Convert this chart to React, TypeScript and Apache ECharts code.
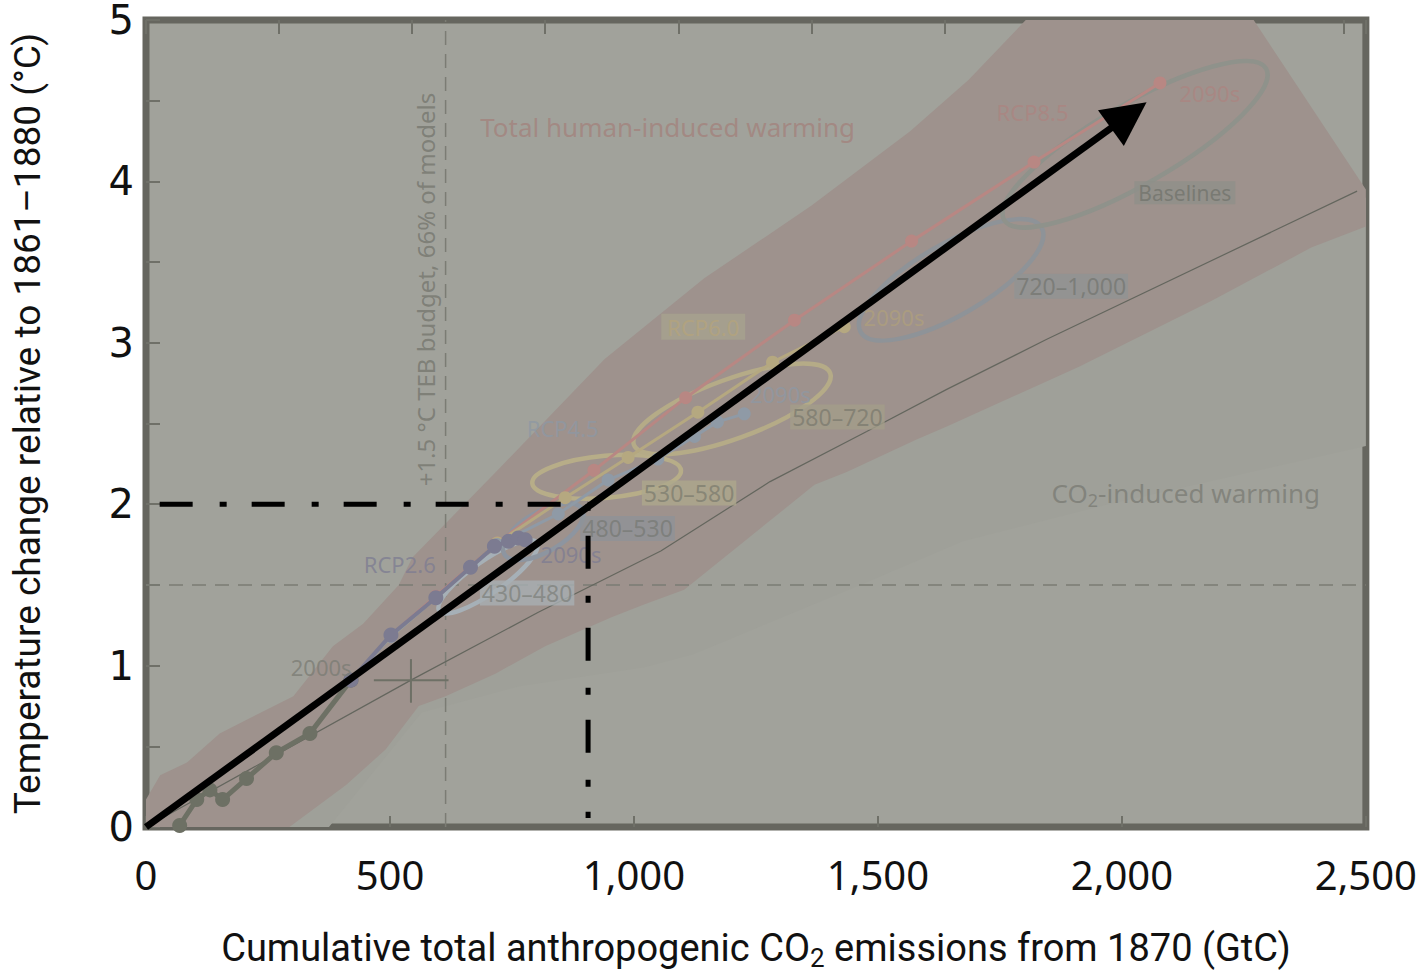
import React, { useEffect, useRef } from 'react';
import * as echarts from 'echarts';

// ---------- data (GtC, °C) ----------
const xTickValues = [0, 500, 1000, 1500, 2000, 2500];
const yTickValues = [0, 1, 2, 3, 4, 5];

const historical = [[69, 0.01], [104, 0.17], [131, 0.23], [157, 0.17], [206, 0.3], [267, 0.46], [336, 0.58], [420, 0.91]];
const rcp26 = [[420, 0.91], [502, 1.19], [594, 1.42], [665, 1.61], [714, 1.74], [743, 1.77], [763, 1.79], [777, 1.78]];
const rcp45 = [[420, 0.91], [502, 1.18], [594, 1.42], [720, 1.75], [845, 1.94], [947, 2.15], [1049, 2.28], [1124, 2.42], [1171, 2.51], [1226, 2.56]];
const rcp60 = [[420, 0.91], [502, 1.18], [594, 1.42], [720, 1.76], [859, 2.04], [988, 2.29], [1131, 2.57], [1284, 2.88], [1431, 3.1]];
const rcp85 = [[420, 0.91], [502, 1.19], [594, 1.43], [720, 1.76], [918, 2.21], [1106, 2.66], [1329, 3.14], [1569, 3.63], [1820, 4.12], [2078, 4.61]];
const co2Central = [[0, 0], [543, 0.91], [804, 1.33], [1055, 1.71], [1279, 2.14], [1477, 2.45], [1640, 2.71], [1845, 3.02], [2482, 3.94]];

const redUpper = [[0, 0.17], [29, 0.32], [84, 0.4], [151, 0.58], [302, 0.81], [383, 1.12], [445, 1.26], [518, 1.5], [546, 1.67], [730, 2.24], [940, 2.9], [1144, 3.4], [1364, 3.85], [1566, 4.31], [1686, 4.63], [1803, 5.0], [2270, 5.0], [2500, 3.95]];
const redLower = [[0, 0], [294, 0], [410, 0.26], [491, 0.48], [559, 0.75], [614, 0.81], [716, 0.95], [818, 1.12], [954, 1.3], [1022, 1.38], [1103, 1.47], [1370, 2.12], [1436, 2.2], [1578, 2.4], [1640, 2.48], [1911, 2.85], [2184, 3.26], [2388, 3.59], [2500, 3.72]];
const grayUpper = [[0, 0], [300, 0.62], [546, 1.2], [1022, 2.0], [1640, 2.8], [2184, 3.45], [2500, 3.9]];
const grayLower = [[375, 0], [565, 0.71], [763, 0.87], [1022, 0.99], [1122, 1.07], [1464, 1.5], [1674, 1.77], [1960, 1.99], [2500, 2.36]];

// concentration ranges: [centre x, centre y, semi-axis a, semi-axis b (GtC-scaled), tilt deg]
const rangeEllipses = [
  [701, 1.55, 122, 33, 35],
  [814, 1.83, 92, 41, 30],
  [944, 2.17, 153, 43, 5],
  [1201, 2.59, 214, 61, 20],
  [1650, 3.39, 214, 73, 30],
  [2027, 4.23, 310, 82, 30],
];

// observed 2000s error cross: [x, y, xLow, xHigh, yLow, yHigh]
const observedCross = [[543, 0.91, 467, 620, 0.77, 1.04]];

const budget15 = 614;
const level15 = 1.5;
const level2 = 2;
const budget2 = 906;
const arrowFrom = [0, 0];
const arrowTo = [2014, 4.41];

const annotations = [
  { text: 'Total human-induced warming', at: [1069, 4.34], kind: 'total' },
  { text: 'CO2-induced warming', at: [2131, 2.07], kind: 'co2' },
  { text: 'RCP8.5', at: [1817, 4.43], kind: 'r85' },
  { text: '2090s', at: [2180, 4.55], kind: 'r85' },
  { text: 'RCP6.0', at: [1142, 3.1], kind: 'r60box' },
  { text: '2090s', at: [1533, 3.16], kind: 'r60' },
  { text: 'RCP4.5', at: [854, 2.47], kind: 'r45' },
  { text: '2090s', at: [1300, 2.68], kind: 'r45' },
  { text: 'RCP2.6', at: [520, 1.63], kind: 'r26' },
  { text: '2090s', at: [871, 1.69], kind: 'r26' },
  { text: '2000s', at: [359, 0.99], kind: 'hist' },
  { text: '430–480', at: [781, 1.45], kind: 'box430' },
  { text: '480–530', at: [987, 1.85], kind: 'box480' },
  { text: '530–580', at: [1113, 2.07], kind: 'box530' },
  { text: '580–720', at: [1417, 2.54], kind: 'box580' },
  { text: '720–1,000', at: [1896, 3.35], kind: 'box720' },
  { text: 'Baselines', at: [2129, 3.93], kind: 'boxBase' },
  { text: '+1.5 °C TEB budget, 66% of models', at: [573, 3.33], kind: 'teb' },
];

// ---------- styles ----------
const FONT = 'Noto Sans';
const TITLE_FONT = 'Roboto';
const ellipseColors = ['#a6b0b7', '#8d95a0', '#b7ad88', '#b5ab87', '#8e9398', '#8f928b'];

const labelStyles: Record<string, any> = {
  total: { fontSize: 26, color: '#a3837d' },
  co2: { fontSize: 26, color: '#7b7c75' },
  r85: { fontSize: 22, color: '#ab8581' },
  r60: { fontSize: 22, color: '#ae9f7d' },
  r60box: { fontSize: 22, color: '#b4a47d', backgroundColor: '#a6a28e', padding: [3, 6, 1, 6] },
  r45: { fontSize: 22, color: '#8e98a3' },
  r26: { fontSize: 22, color: '#7e7d92' },
  hist: { fontSize: 22, color: '#7c7d75' },
  box430: { fontSize: 23, color: '#80837f', backgroundColor: '#a8afb3', padding: [2, 2, 0, 2] },
  box480: { fontSize: 23, color: '#797b77', backgroundColor: '#8f9297', padding: [2, 2, 0, 2] },
  box530: { fontSize: 23, color: '#7f7e70', backgroundColor: '#aca78c', padding: [2, 2, 0, 2] },
  box580: { fontSize: 23, color: '#7d7c70', backgroundColor: '#a29e8a', padding: [2, 2, 0, 2] },
  box720: { fontSize: 23, color: '#767873', backgroundColor: '#909394', padding: [2, 2, 0, 2] },
  boxBase: { fontSize: 21, color: '#73746d', backgroundColor: '#8f908a', padding: [2, 4, 0, 4] },
  teb: { fontSize: 24, color: '#76776f', rotate: 90 },
};

function polygonSeries(points: number[][], color: string, z: number) {
  return {
    type: 'custom',
    coordinateSystem: 'cartesian2d',
    silent: true,
    z,
    clip: true,
    data: [points[0]],
    renderItem: (_p: any, api: any) => ({
      type: 'polygon',
      shape: { points: points.map((p) => api.coord(p)) },
      style: { fill: color },
    }),
  };
}

function pathSeries(data: number[][], color: string, width: number, symbolSize: number, z: number) {
  return {
    type: 'line',
    data,
    z,
    silent: true,
    symbol: 'circle',
    symbolSize,
    showSymbol: true,
    itemStyle: { color, borderWidth: 0 },
    lineStyle: { color, width },
  };
}

export default function App() {
  const ref = useRef<HTMLDivElement>(null);

  useEffect(() => {
    if (!ref.current) return;
    const chart = echarts.init(ref.current, undefined, { renderer: 'svg' });

    const redPoly = redUpper.concat(redLower.slice().reverse());
    const grayPoly = grayUpper.concat(grayLower.slice().reverse());

    const option: any = {
      animation: false,
      textStyle: { fontFamily: FONT },
      grid: {
        left: 146,
        top: 17,
        width: 1226,
        height: 817,
        show: true,
        backgroundColor: '#a1a29b',
        borderColor: '#66665f',
        borderWidth: 7,
        containLabel: false,
      },
      xAxis: [
        {
          type: 'value',
          min: xTickValues[0],
          max: xTickValues[xTickValues.length - 1],
          interval: 500,
          position: 'bottom',
          axisLine: { show: false },
          axisTick: { show: true, inside: true, length: 11, lineStyle: { color: '#6f7068', width: 2 } },
          splitLine: { show: false },
          axisLabel: {
            formatter: (v: number) => v.toLocaleString('en-US'),
            fontSize: 40,
            fontFamily: FONT,
            color: '#111',
            margin: 27,
          },
          name: '{a|Cumulative total anthropogenic CO}{s|2}{a| emissions from 1870 (GtC)}',
          nameLocation: 'middle',
          nameGap: 98,
          nameTextStyle: {
            rich: {
              a: { fontSize: 38, fontFamily: TITLE_FONT, color: '#111' },
              s: { fontSize: 26, fontFamily: TITLE_FONT, color: '#111', padding: [20, 0, 0, 0] },
            },
          },
        },
        {
          type: 'value',
          min: 0,
          max: (2500 * 44) / 12,
          interval: 1000,
          position: 'top',
          axisLine: { show: false },
          axisTick: { show: true, inside: true, length: 14, lineStyle: { color: '#6f7068', width: 2 } },
          axisLabel: { show: false },
          splitLine: { show: false },
        },
      ],
      yAxis: {
        type: 'value',
        min: yTickValues[0],
        max: yTickValues[yTickValues.length - 1],
        interval: 0.5,
        axisLine: { show: false },
        axisTick: { show: true, inside: true, length: 14, lineStyle: { color: '#6f7068', width: 2 } },
        splitLine: { show: false },
        axisLabel: {
          formatter: (v: number) => (yTickValues.includes(v) ? String(v) : ''),
          fontSize: 40,
          fontFamily: 'DejaVu Sans',
          color: '#111',
          margin: 12,
        },
        name: 'Temperature change relative to 1861–1880 (°C)',
        nameLocation: 'middle',
        nameGap: 100,
        nameRotate: 90,
        nameTextStyle: { fontSize: 37, fontFamily: TITLE_FONT, color: '#111' },
      },
      series: [
        polygonSeries(grayPoly, '#9fa099', 1),
        polygonSeries(redPoly, '#9e928d', 2),
        {
          type: 'line',
          silent: true,
          z: 3,
          symbol: 'none',
          data: [[budget15, 0], [budget15, 5]],
          lineStyle: { color: '#7b7c74', width: 1.5, type: [14, 9] },
        },
        {
          type: 'line',
          silent: true,
          z: 3,
          symbol: 'none',
          data: [[0, level15], [2500, level15]],
          lineStyle: { color: '#7b7c74', width: 1.5, type: [14, 9] },
        },
        {
          type: 'line',
          silent: true,
          z: 4,
          symbol: 'none',
          data: co2Central,
          lineStyle: { color: '#64665e', width: 1.2 },
        },
        {
          type: 'custom',
          coordinateSystem: 'cartesian2d',
          silent: true,
          z: 5,
          data: rangeEllipses,
          renderItem: (params: any, api: any) => {
            const c = api.coord([api.value(0), api.value(1)]);
            const rx = api.size([api.value(2), 0])[0];
            const ry = api.size([api.value(3), 0])[0];
            return {
              type: 'ellipse',
              x: c[0],
              y: c[1],
              rotation: (api.value(4) * Math.PI) / 180,
              shape: { cx: 0, cy: 0, rx, ry },
              style: { fill: 'none', stroke: ellipseColors[params.dataIndex], lineWidth: 4.5 },
            };
          },
        },
        {
          type: 'custom',
          coordinateSystem: 'cartesian2d',
          silent: true,
          z: 6,
          data: observedCross,
          renderItem: (_p: any, api: any) => {
            const a = api.coord([api.value(2), api.value(1)]);
            const b = api.coord([api.value(3), api.value(1)]);
            const c = api.coord([api.value(0), api.value(4)]);
            const d = api.coord([api.value(0), api.value(5)]);
            const st = { stroke: '#6e7066', lineWidth: 2 };
            return {
              type: 'group',
              children: [
                { type: 'line', shape: { x1: a[0], y1: a[1], x2: b[0], y2: b[1] }, style: st },
                { type: 'line', shape: { x1: c[0], y1: c[1], x2: d[0], y2: d[1] }, style: st },
              ],
            };
          },
        },
        pathSeries(rcp85, '#b88783', 3, 13, 7),
        pathSeries(rcp60, '#b5a880', 3, 13, 8),
        pathSeries(rcp45, '#8f9aa6', 3, 13, 9),
        pathSeries(historical, '#6d7064', 5, 15, 10),
        pathSeries(rcp26, '#7c7b91', 4, 15, 11),
        {
          type: 'scatter',
          silent: true,
          z: 12,
          symbolSize: 0,
          data: annotations.map((a) => {
            const st = labelStyles[a.kind];
            const isCO2 = a.kind === 'co2';
            return {
              value: a.at,
              label: {
                show: true,
                position: 'inside',
                fontFamily: FONT,
                ...st,
                formatter: isCO2 ? '{a|CO}{s|2}{a|-induced warming}' : a.text,
                rich: isCO2
                  ? {
                      a: { fontSize: 26, color: st.color, fontFamily: FONT },
                      s: { fontSize: 18, color: st.color, fontFamily: FONT, padding: [14, 0, 0, 0] },
                    }
                  : undefined,
              },
            };
          }),
        },
        {
          type: 'line',
          silent: true,
          z: 20,
          symbol: 'none',
          data: [[28, level2], [budget2, level2], [budget2, 0.055]],
          lineStyle: { color: '#000', width: 5, type: [33, 27, 7, 25] },
        },
        {
          type: 'lines',
          coordinateSystem: 'cartesian2d',
          silent: true,
          z: 21,
          symbol: ['none', 'triangle'],
          symbolSize: 44,
          data: [{ coords: [arrowFrom, arrowTo] }],
          lineStyle: { color: '#000', width: 7, opacity: 1 },
          itemStyle: { color: '#000' },
        },
      ],
    };

    chart.setOption(option);
    return () => chart.dispose();
  }, []);

  return (
    <div
      ref={ref}
      style={{ position: 'fixed', left: 0, top: 0, width: 1420, height: 976, background: '#ffffff' }}
    />
  );
}
